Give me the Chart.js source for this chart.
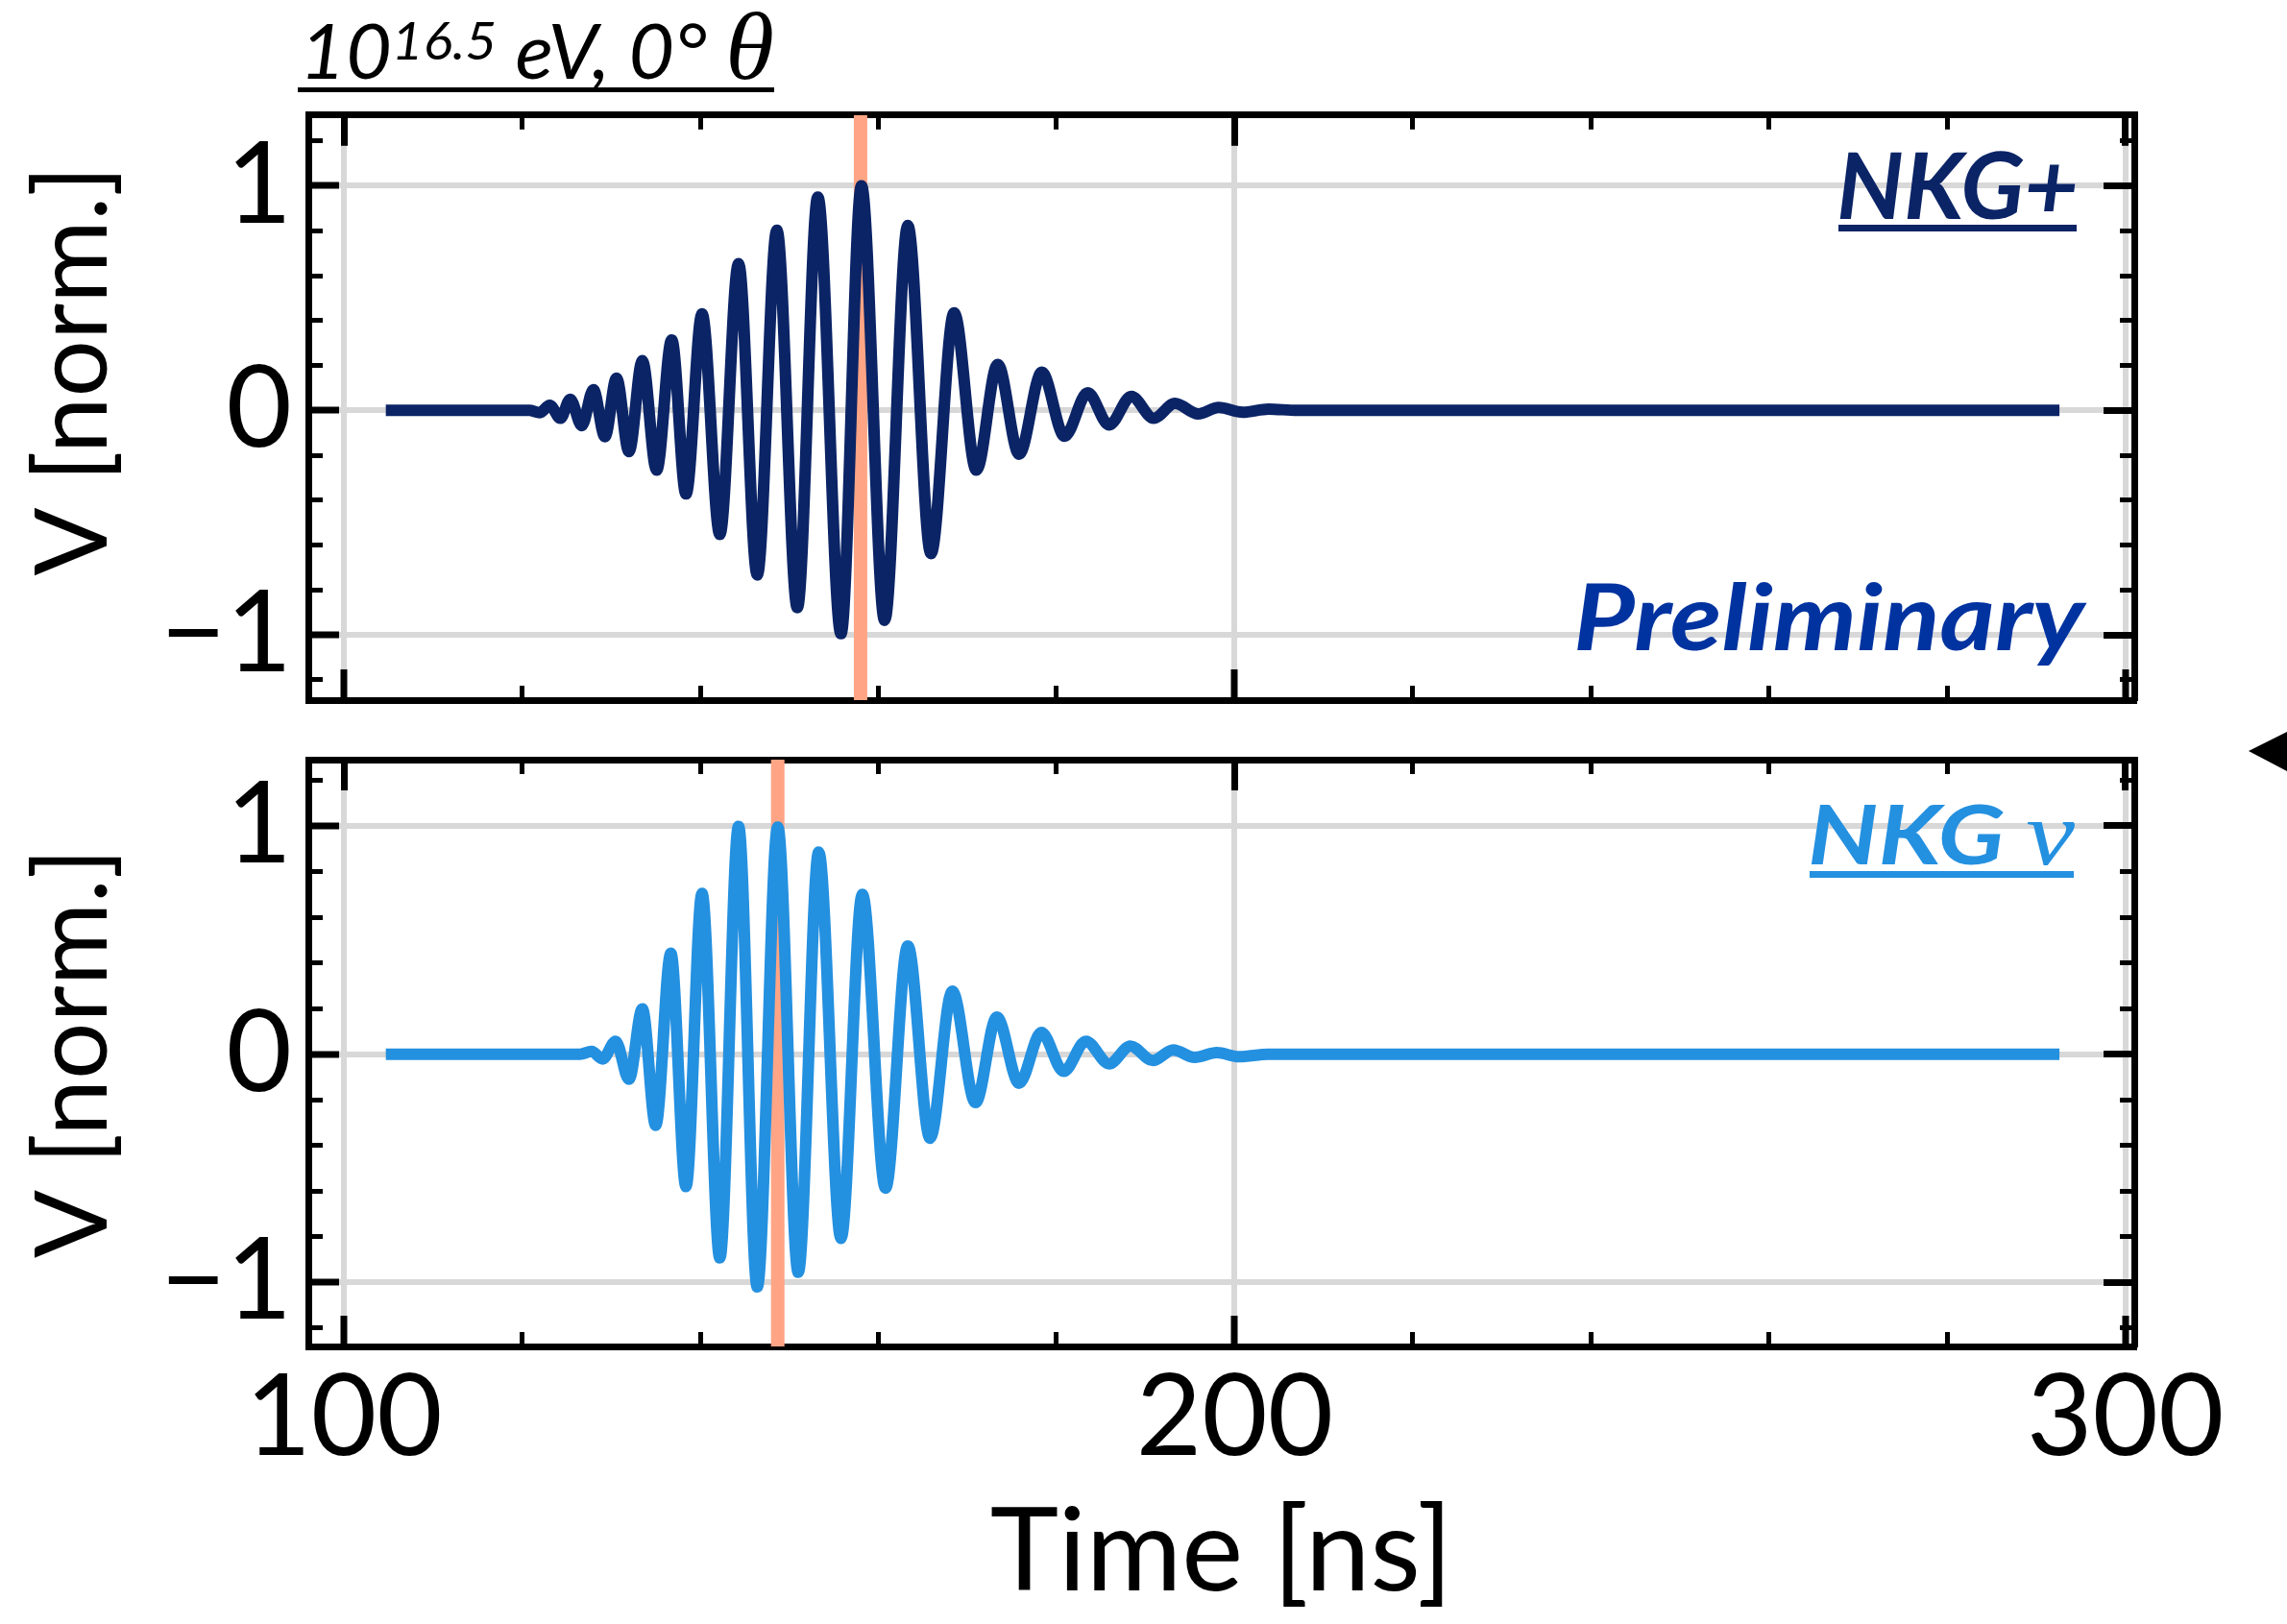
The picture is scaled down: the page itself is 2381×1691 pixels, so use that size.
<!DOCTYPE html>
<html>
<head>
<meta charset="utf-8">
<script src="https://cdn.jsdelivr.net/npm/chart.js@4.4.1/dist/chart.umd.min.js"></script>
<style>
  html, body { margin:0; padding:0; background:#ffffff; }
  #page { position:relative; width:2381px; height:1691px; overflow:hidden; background:#ffffff; }
  #page canvas { position:absolute; left:0; top:0; }
  .note { position:absolute; left:0; top:0; white-space:nowrap; line-height:1; font-family:'Lato', sans-serif; transform-origin:0 0; }
  .bl { display:inline-block; width:0; height:0; vertical-align:baseline; }
  .rule { position:absolute; }
  #title { font-size:80px; font-style:italic; color:#000; }
  #title .sup { font-size:55px; vertical-align:20px; }
  #title .th { font-family:'Liberation Serif', serif; font-style:italic; font-size:100px; }
  #nkgPlus { font-size:95px; font-weight:700; font-style:italic; color:#0b2466; }
  #prelim { font-size:95px; font-weight:700; font-style:italic; color:#0033a0; }
  #nkgNu { font-size:86px; font-weight:700; font-style:italic; color:#2490e0; }
  #nkgNu .nu { font-family:'Liberation Serif', serif; font-style:italic; font-weight:400; font-size:96px; }
  #arrow { position:absolute; left:2341px; top:762px; width:0; height:0;
           border-top:20px solid transparent; border-bottom:21px solid transparent; border-right:40px solid #000; }
</style>
</head>
<body>
<div id="page">
  <canvas id="topChart" width="2381" height="1691"></canvas>
  <canvas id="bottomChart" width="2381" height="1691"></canvas>
  <div class="note" id="title">10<span class="sup">16.5</span> eV, 0° <span class="th">θ</span><span class="bl"></span></div>
  <div class="note" id="nkgPlus">NKG+<span class="bl"></span></div>
  <div class="note" id="prelim">Preliminary<span class="bl"></span></div>
  <div class="note" id="nkgNu">NKG <span class="nu">ν</span><span class="bl"></span></div>
  <div id="arrow"></div>
</div>
<script>
// ---------------- data ----------------
const timeMin = 96, timeMax = 301;          // x axis limits [ns]
const xTickValues = [100, 200, 300];        // labelled x ticks
const yTickValues = [-1, 0, 1];             // labelled y ticks
const xMinorStep = 20, yMinorStep = 0.2;
const topRange = [-1.29, 1.315];
const bottomRange = [-1.28, 1.29];

// NKG+ (top panel): local extrema of the waveform
const topTimes = [104.7, 120.8, 122.0, 123.1, 124.3, 125.4, 126.7, 128.0, 129.3, 130.6, 132.0, 133.5,
  135.1, 136.8, 138.4, 140.2, 142.2, 144.3, 146.4, 148.6, 150.9, 153.2, 155.8, 158.1, 160.7, 163.3,
  165.9, 168.5, 171.0, 173.4, 175.8, 178.35, 180.9, 183.5, 185.9, 188.4, 190.9, 193.3, 195.9, 198.2,
  200.9, 203.8, 207.0, 292.6];
const topValues = [0, 0, -0.01, 0.023, -0.035, 0.05, -0.068, 0.092, -0.117, 0.144, -0.184, 0.222,
  -0.266, 0.314, -0.372, 0.43, -0.552, 0.654, -0.733, 0.802, -0.878, 0.95, -0.994, 1.0, -0.935, 0.823,
  -0.638, 0.434, -0.266, 0.205, -0.195, 0.17, -0.115, 0.078, -0.065, 0.062, -0.035, 0.031, -0.016, 0.013,
  -0.008, 0.006, 0, 0];

// NKG nu (bottom panel)
const bottomTimes = [104.7, 126.5, 127.8, 129.05, 130.5, 132.0, 133.5, 135.0, 136.7, 138.4, 140.2, 142.2,
  144.3, 146.4, 148.7, 151.0, 153.3, 155.8, 158.2, 160.8, 163.3, 165.8, 168.3, 170.9, 173.3, 175.8,
  178.3, 180.8, 183.3, 185.9, 188.3, 190.8, 193.1, 195.5, 198.0, 200.5, 203.8, 292.6];
const bottomValues = [0, 0, 0.012, -0.021, 0.057, -0.11, 0.198, -0.311, 0.442, -0.58, 0.704, -0.892,
  0.998, -1.019, 0.995, -0.955, 0.885, -0.807, 0.70, -0.587, 0.474, -0.368, 0.276, -0.212, 0.163, -0.127,
  0.095, -0.075, 0.057, -0.042, 0.036, -0.028, 0.019, -0.014, 0.007, -0.011, 0, 0];

const topMarker = 158.0;      // vertical marker times [ns]
const bottomMarker = 148.7;

const yAxisTitle = 'V [norm.]';
const xAxisTitle = 'Time [ns]';

// ---------------- styling ----------------
const FONT = "'Lato', sans-serif";
const FRAME = 7, MAJ = 32, MIN = 15, GRID = '#d8d8d8';
Chart.defaults.font.family = FONT;
Chart.defaults.color = '#000';

function fixedTicks(values) {
  return function (s) { s.ticks = values.map(v => ({ value: v })); };
}

function tickAxis(position, step, len, width, range, withBorder, fixed) {
  const ax = {
    type: 'linear', position, weight: 0, min: range[0], max: range[1],
    ticks: { display: false, stepSize: step, includeBounds: false, autoSkip: false },
    grid: { display: true, drawOnChartArea: false, drawTicks: true, tickLength: -len,
            tickWidth: width, tickColor: '#000' },
    border: { display: withBorder, width: FRAME, color: '#000' },
    afterFit(s) { if (s.isHorizontal()) s.height = 0; else s.width = 0; }
  };
  if (fixed) ax.afterBuildTicks = fixedTicks(fixed);
  return ax;
}

function buildChart(id, times, values, color, marker, yRange, pad, showX, yTitle) {
  const xr = [timeMin, timeMax];
  const tickFont = { family: FONT, size: 118 };
  const scales = {
    x: {
      type: 'linear', position: 'bottom', weight: 1, min: timeMin, max: timeMax,
      afterBuildTicks: fixedTicks(xTickValues),
      ticks: { display: showX, includeBounds: false, autoSkip: false,
               maxRotation: 0, minRotation: 0, padding: 36, font: tickFont, color: '#000' },
      grid: { display: true, drawOnChartArea: true, drawTicks: true, tickLength: -MAJ,
              tickWidth: FRAME, tickColor: '#000', color: GRID, lineWidth: 6 },
      border: { display: true, width: FRAME, color: '#000' },
      title: { display: showX, text: xAxisTitle, color: '#000', font: { family: FONT, size: 121 },
               padding: { top: 0, bottom: 1 } },
      afterFit(s) { s.height = pad.xAxis; }
    },
    xMinor: tickAxis('bottom', xMinorStep, MIN, 5, xr, false, null),
    xTop: tickAxis('top', 100, MAJ, FRAME, xr, true, xTickValues),
    xTopMinor: tickAxis('top', xMinorStep, MIN, 5, xr, false, null),
    y: {
      type: 'linear', position: 'left', weight: 1, min: yRange[0], max: yRange[1],
      afterBuildTicks: fixedTicks(yTickValues),
      ticks: { includeBounds: false, autoSkip: false, padding: 49,
               font: tickFont, color: '#000',
               callback: v => String(v).replace('-', '\u2212') },
      grid: { display: true, drawOnChartArea: true, drawTicks: true, tickLength: -MAJ,
              tickWidth: FRAME, tickColor: '#000', color: GRID, lineWidth: 6 },
      border: { display: true, width: FRAME, color: '#000' },
      title: { display: true, text: yTitle, color: '#000', font: { family: FONT, size: 105 },
               padding: { top: 14, bottom: 0 } },
      afterFit(s) { s.width = 321; }
    },
    yMinor: tickAxis('left', yMinorStep, MIN, 5, yRange, false, null),
    yRight: tickAxis('right', 1, MAJ, FRAME, yRange, true, yTickValues),
    yRightMinor: tickAxis('right', yMinorStep, MIN, 5, yRange, false, null)
  };
  return new Chart(document.getElementById(id), {
    type: 'line',
    data: {
      datasets: [
        { data: times.map((t, i) => ({ x: t, y: values[i] })), xAxisID: 'x', yAxisID: 'y',
          borderColor: color, borderWidth: 12, pointRadius: 0, fill: false,
          cubicInterpolationMode: 'monotone', borderCapStyle: 'butt', borderJoinStyle: 'round', order: 0 },
        { data: [{ x: marker, y: yRange[0] }, { x: marker, y: yRange[1] }], xAxisID: 'x', yAxisID: 'y',
          borderColor: '#ffa585', borderWidth: 14, pointRadius: 0, fill: false, order: 1 }
      ]
    },
    options: {
      responsive: false, animation: false, events: [],
      layout: { padding: { top: pad.top, bottom: pad.bottom, left: 0, right: 159 } },
      plugins: { legend: { display: false }, tooltip: { enabled: false }, title: { display: false } },
      scales
    }
  });
}

// the upper panel's label sits a little above its axis centre in the reference
buildChart('topChart', topTimes, topValues, '#0b2466', topMarker, topRange,
           { top: 114, bottom: 1691 - 729, xAxis: 0 }, false, '\u00a0\u00a0\u00a0' + yAxisTitle);
buildChart('bottomChart', bottomTimes, bottomValues, '#2490e0', bottomMarker, bottomRange,
           { top: 791, bottom: 0, xAxis: 1691 - 1402 }, true, yAxisTitle);

// ---------------- text annotations ----------------
const page = document.getElementById('page');
function placeText(id, left, right, baseline, underline) {
  const el = document.getElementById(id);
  const r = el.getBoundingClientRect();
  const b = el.querySelector('.bl').getBoundingClientRect();
  const sx = (right - left) / r.width;
  el.style.transform = 'scaleX(' + sx + ')';
  el.style.left = left + 'px';
  el.style.top = (baseline - (b.top - r.top)) + 'px';
  if (underline) {
    const u = document.createElement('div');
    u.className = 'rule';
    u.style.left = underline.x0 + 'px';
    u.style.width = (underline.x1 - underline.x0) + 'px';
    u.style.top = underline.y + 'px';
    u.style.height = underline.h + 'px';
    u.style.background = getComputedStyle(el).color;
    page.appendChild(u);
  }
}
placeText('title', 312, 806, 82, { x0: 310, x1: 806, y: 91, h: 5 });
placeText('nkgPlus', 1912, 2164, 228, { x0: 1914, x1: 2162, y: 234, h: 7 });
placeText('prelim', 1638, 2170, 677, null);
placeText('nkgNu', 1882, 2160, 900, { x0: 1884, x1: 2159, y: 907, h: 7 });
</script>
</body>
</html>
